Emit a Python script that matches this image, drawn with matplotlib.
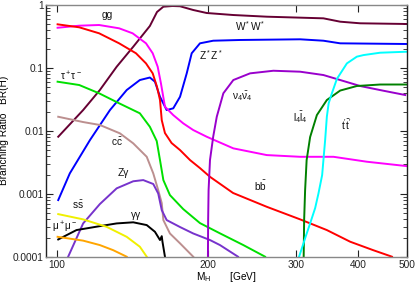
import matplotlib
matplotlib.use("Agg")
import matplotlib.pyplot as plt
from matplotlib.ticker import FixedLocator, NullLocator, LogLocator, FixedFormatter

plt.rcParams['font.family'] = ['Liberation Sans', 'DejaVu Sans']
plt.rcParams['mathtext.fontset'] = 'custom'
plt.rcParams['mathtext.rm'] = 'Liberation Sans'
plt.rcParams['mathtext.it'] = 'Liberation Sans:italic'
plt.rcParams['mathtext.bf'] = 'Liberation Sans:bold'

# ---- data (M_H in GeV, branching ratio) ----
bb_m = [100.2, 110.7, 121.3, 133.0, 143.7, 150.5, 155.2, 158.3, 160.5, 161.8, 164.2, 169.3, 176.0, 184.3, 192.9, 202.0, 224.6, 262.3, 305.8, 345.8, 385.0, 428.0, 466.6]
bb_br = [0.493, 0.442, 0.355, 0.246, 0.171, 0.118, 0.082, 0.0502, 0.0309, 0.0148, 0.00923, 0.0064, 0.00495, 0.00343, 0.00256, 0.00186, 0.00103, 0.000621, 0.000392, 0.000265, 0.000173, 0.000127, 0.0001]

gg_m = [100.2, 110.7, 121.3, 133.0, 141.5, 150.5, 155.2, 158.8, 161.2, 164.2, 170.6, 178.6, 187.0, 199.0, 224.9, 262.3, 305.8, 356.5, 415.8, 500.0]
gg_br = [0.435, 0.469, 0.481, 0.426, 0.355, 0.246, 0.171, 0.1045, 0.0569, 0.0242, 0.0178, 0.01316, 0.0103, 0.00806, 0.00527, 0.00412, 0.00387, 0.00387, 0.00323, 0.00275]

ww_m = [100.5, 112.7, 121.7, 131.5, 141.9, 153.2, 158.3, 163.0, 170.0, 176.0, 187.0, 199.0, 224.9, 262.3, 340.4, 367.7, 403.0, 500.0]
ww_br = [0.00806, 0.0214, 0.0445, 0.1045, 0.217, 0.464, 0.774, 0.94, 0.964, 0.955, 0.833, 0.746, 0.693, 0.652, 0.614, 0.543, 0.512, 0.499]

zz_m = [100.5, 106.0, 116.3, 127.5, 137.7, 146.3, 153.2, 156.8, 160.5, 165.5, 170.6, 176.0, 181.5, 185.7, 192.9, 205.0, 232.0, 305.8, 340.4, 367.7, 500.0]
zz_br = [0.000794, 0.00211, 0.00714, 0.0214, 0.0445, 0.0642, 0.0704, 0.0604, 0.0348, 0.0214, 0.0228, 0.0348, 0.082, 0.171, 0.246, 0.2707, 0.278, 0.285, 0.2707, 0.246, 0.240]

tau_m = [100.2, 110.7, 121.3, 133.0, 146.3, 153.2, 158.1, 160.5, 163.0, 168.0, 178.6, 192.9, 211.5, 235.5, 260.3]
tau_br = [0.0604, 0.0535, 0.0395, 0.0274, 0.019, 0.0116, 0.00689, 0.00343, 0.00165, 0.000953, 0.000571, 0.000342, 0.000235, 0.000153, 0.0001]

cc_m = [100.5, 112.7, 121.7, 133.5, 141.9, 151.0, 155.6, 159.2, 161.8, 163.0, 168.0, 176.0, 187.0]
cc_br = [0.01675, 0.0138, 0.0124, 0.00912, 0.00633, 0.00387, 0.00211, 0.00114, 0.000711, 0.000382, 0.000234, 0.000163, 0.0001]

zgam_m = [105.2, 112.7, 121.7, 131.5, 141.9, 148.6, 155.6, 159.2, 161.8, 165.5, 176.0, 187.0, 202.0, 211.5, 229.8]
zgam_br = [0.0001, 0.000338, 0.000686, 0.00122, 0.00158, 0.00165, 0.00143, 0.00101, 0.00055, 0.000382, 0.000296, 0.000234, 0.000184, 0.000153, 0.0001]

gamgam_m = [100.5, 109.3, 121.7, 131.5, 141.9, 151.0, 156.8, 160.5, 161.8, 162.3, 164.2]
gamgam_br = [0.000188, 0.000265, 0.000306, 0.000338, 0.000352, 0.000318, 0.000249, 0.000184, 0.000212, 0.000175, 0.0001]

ss_m = [100.5, 112.7, 125.5, 137.7, 146.3, 151.0]
ss_br = [0.000475, 0.000392, 0.000299, 0.000207, 0.000144, 0.0001]

mumu_m = [100.2, 112.7, 121.7, 129.4, 137.7]
mumu_br = [0.000207, 0.00018, 0.000153, 0.000127, 0.0001]

nu4_m = [200.0, 200.3, 200.7, 202.0, 205.0, 208.4, 214.8, 224.9, 242.9, 270.4, 305.8, 340.4, 367.7, 403.0, 448.7, 496.0]
nu4_br = [0.00005, 0.000382, 0.00114, 0.00343, 0.00806, 0.01675, 0.0395, 0.0642, 0.082, 0.0902, 0.0871, 0.0771, 0.0642, 0.0516, 0.0434, 0.0371]

l4_m = [310.5, 311.5, 312.9, 315.1, 320.2, 330.3, 345.8, 367.7, 397.0, 441.9, 500.0]
l4_br = [0.00005, 0.000382, 0.00114, 0.00343, 0.00797, 0.0178, 0.0309, 0.0437, 0.0516, 0.0545, 0.0545]

tt_m = [301.6, 314.4, 320.2, 327.7, 332.7, 338.4, 340.4, 343.1, 345.8, 348.7, 353.9, 362.1, 379.2, 397.0, 409.3, 441.9, 500.0]
tt_br = [0.00008, 0.00022, 0.000338, 0.000593, 0.00101, 0.00198, 0.00343, 0.00714, 0.01675, 0.0274, 0.0395, 0.0667, 0.118, 0.151, 0.16, 0.1745, 0.181]

x_ticks = [100, 200, 300, 400, 500]
x_ticklabels = ['100', '200', '300', '400', '500']
y_ticks = [1e-4, 1e-3, 1e-2, 1e-1, 1]
y_ticklabels = ['0.0001', '0.001', '0.01', '0.1', '1']

fig = plt.figure(figsize=(4.15, 2.84), dpi=100)
ax = fig.add_axes([46/415, 1-256.7/284, (407-46)/415, (256.7-5)/284])

lw = 1.4
ax.plot(ww_m, ww_br, color='#660033', lw=lw)
ax.plot(zz_m, zz_br, color='#0000ff', lw=lw)
ax.plot(gg_m, gg_br, color='#ff00ff', lw=lw)
ax.plot(bb_m, bb_br, color='#ff0000', lw=lw)
ax.plot(tau_m, tau_br, color='#00e000', lw=lw)
ax.plot(cc_m, cc_br, color='#bc8f8f', lw=lw)
ax.plot(zgam_m, zgam_br, color='#7733cc', lw=lw)
ax.plot(gamgam_m, gamgam_br, color='black', lw=lw)
ax.plot(ss_m, ss_br, color='#f0f000', lw=lw)
ax.plot(mumu_m, mumu_br, color='#ffa500', lw=lw)
ax.plot(nu4_m, nu4_br, color='#9900cc', lw=lw)
ax.plot(l4_m, l4_br, color='#008000', lw=lw)
ax.plot(tt_m, tt_br, color='#00ffff', lw=lw)

ax.set_xscale('log')
ax.set_yscale('log')
ax.set_xlim(95, 500)
ax.set_ylim(1e-4, 1)

ax.xaxis.set_major_locator(FixedLocator(x_ticks))
ax.xaxis.set_major_formatter(FixedFormatter(x_ticklabels))
ax.xaxis.set_minor_locator(NullLocator())
ax.yaxis.set_major_locator(FixedLocator(y_ticks))
ax.yaxis.set_major_formatter(FixedFormatter(y_ticklabels))
ax.yaxis.set_minor_locator(LogLocator(base=10, subs=[2, 3, 4, 5, 6, 7, 8, 9], numticks=20))

fs = 7.3
ax.tick_params(axis='both', which='both', direction='in', labelsize=fs, colors='#222222')
ax.tick_params(axis='x', which='major', length=5, top=True, bottom=True, pad=2.5)
ax.tick_params(axis='y', which='major', length=5, left=True, right=True, pad=1.5)
ax.tick_params(axis='y', which='minor', length=3, left=True, right=True)

for s in ['top', 'bottom']:
    ax.spines[s].set_color('#888888')
for s in ['left', 'right']:
    ax.spines[s].set_color('#222222')
for s in ax.spines.values():
    s.set_linewidth(1.0)

ax.set_ylabel('Branching Ratio   BR(H)', fontsize=fs, labelpad=3)
ax.set_xlabel(r'$\mathrm{M_H}$       [GeV]', fontsize=fs, labelpad=0)

kw = dict(fontsize=fs, ha='center', va='center', color='#111111')
ax.text(126.1, 0.693, 'gg', **kw)
ax.text(242.9, 0.464, r'$\mathrm{W^*W^*}$', **kw)
ax.text(202.9, 0.160, r'$\mathrm{Z^*Z^*}$', **kw)
ax.text(106.5, 0.0743, r'$\mathrm{\tau^+\tau^-}$', **kw)
ax.text(131.6, 0.00664, r'$\mathrm{c\bar{c}}$', **kw)
ax.text(135.5, 0.00216, 'Zγ', **kw)
ax.text(144.1, 0.000458, 'γγ', **kw)
ax.text(110.2, 0.000661, r'$\mathrm{s\bar{s}}$', **kw)
ax.text(103.6, 0.000292, r'$\mathrm{\mu^+\mu^-}$', **kw)
ax.text(254.3, 0.00132, r'$\mathrm{b\bar{b}}$', **kw)
ax.text(233.8, 0.0357, r'$\mathrm{\nu_4\bar{\nu}_4}$', **kw)
ax.text(305.8, 0.01675, r'$\mathrm{l_4\bar{l}_4}$', **kw)
ax.text(377.4, 0.0124, r"$\mathrm{t'\bar{t}'}$", **kw)

fig.savefig('out.png', dpi=100)
